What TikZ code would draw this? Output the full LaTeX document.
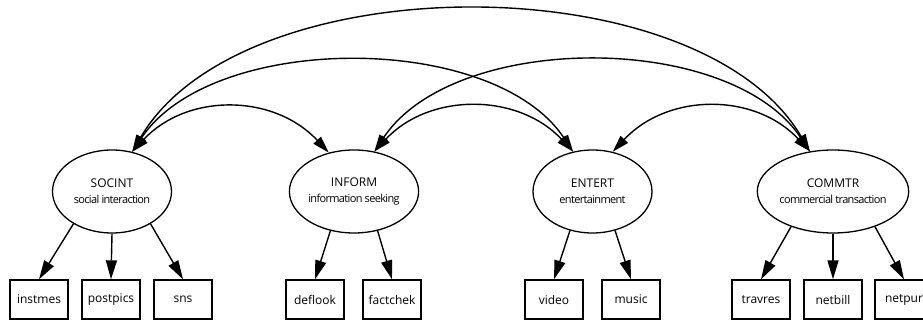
\documentclass[tikz,border=0pt]{standalone}
\usepackage{fontspec}
\setmainfont{Open Sans}
\usetikzlibrary{shapes.geometric,arrows.meta}
\newcommand{\subtitle}[1]{{\fontsize{11}{16}\selectfont\addfontfeature{LetterSpace=-6}#1}}
\tikzset{
  latent/.style={draw, ellipse, line width=1.3pt, inner sep=0pt, minimum width=119pt, minimum height=83pt, align=center, font=\fontsize{12}{16}\selectfont},
  manifest/.style={draw, rectangle, line width=1.3pt, inner sep=0pt, minimum width=58pt, minimum height=39pt, font=\fontsize{12}{14}\selectfont},
  loading/.style={line width=1.4pt, -{Triangle[length=19pt,width=11pt]}},
  covar/.style={line width=1.4pt, {Triangle[length=17pt,width=10pt]}-{Triangle[length=17pt,width=10pt]}}
}
\begin{document}
\begin{tikzpicture}[x=1pt,y=-1pt]
\useasboundingbox (0,0) rectangle (923,320);
\node[latent] at (112,191.5) (socint) {SOCINT\\\subtitle{social interaction}};
\node[latent] at (354,191.5) (inform) {INFORM\\\subtitle{information seeking}};
\node[latent] at (592.5,191.5) (entert) {ENTERT\\\subtitle{entertainment}};
\node[latent] at (833,191.5) (commtr) {COMMTR\\\subtitle{commercial transaction}};
\node[manifest] at (39,299.5) (instmes) {instmes};
\node[manifest] at (111,299.5) (postpics) {postpics};
\node[manifest] at (183,299.5) (sns) {sns};
\node[manifest] at (315,299.5) (deflook) {deflook};
\node[manifest] at (392,299.5) (factchek) {factchek};
\node[manifest] at (554,299.5) (video) {video};
\node[manifest] at (631,299.5) (music) {music};
\node[manifest] at (761,299.5) (travres) {travres};
\node[manifest] at (833,299.5) (netbill) {netbill};
\node[manifest] at (904,299.5) (netpur) {netpur};
\draw[loading] (socint.220)--(instmes.north);
\draw[loading] (socint.270)--(postpics.north);
\draw[loading] (socint.320)--(sns.north);
\draw[loading] (inform.239)--(deflook.north);
\draw[loading] (inform.301)--(factchek.north);
\draw[loading] (entert.240)--(video.north);
\draw[loading] (entert.300)--(music.north);
\draw[loading] (commtr.220)--(travres.north);
\draw[loading] (commtr.270)--(netbill.north);
\draw[loading] (commtr.320)--(netpur.north);
% covariances
\draw[covar] (socint.63) .. controls +(55,-59) and +(-55,-59) .. (inform.123);
\draw[covar] (socint.63) .. controls +(80,-120) and +(-80,-120) .. (entert.116);
\draw[covar] (socint.63) .. controls +(110,-188) and +(-110,-188) .. (commtr.120);
\draw[covar] (inform.63) .. controls +(55,-59) and +(-55,-59) .. (entert.116);
\draw[covar] (inform.63) .. controls +(80,-120) and +(-80,-120) .. (commtr.120);
\draw[covar] (entert.63) .. controls +(55,-59) and +(-55,-59) .. (commtr.120);
\end{tikzpicture}
\end{document}
